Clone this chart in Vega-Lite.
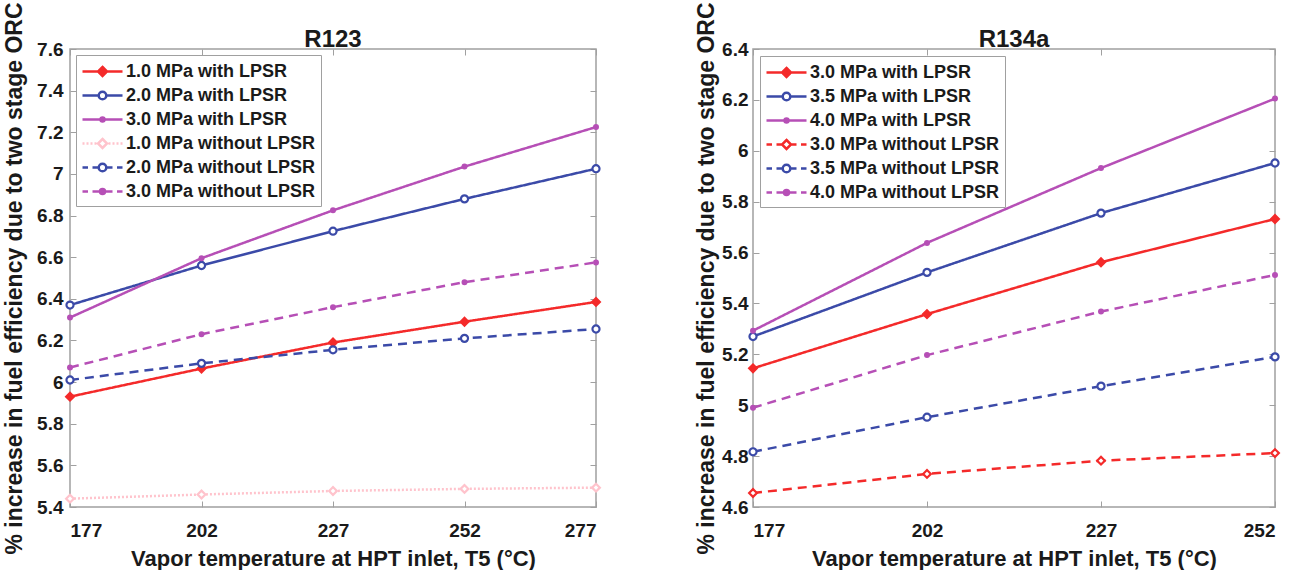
{
  "$schema": "https://vega.github.io/schema/vega-lite/v6.json",
  "background": "white",
  "padding": {"left": 2, "top": 1, "right": 5, "bottom": 0},
  "datasets": {
    "r123": [
      {"s": "1.0 MPa with LPSR", "t": 177, "v": 5.93},
      {"s": "1.0 MPa with LPSR", "t": 202, "v": 6.065},
      {"s": "1.0 MPa with LPSR", "t": 227, "v": 6.19},
      {"s": "1.0 MPa with LPSR", "t": 252, "v": 6.29},
      {"s": "1.0 MPa with LPSR", "t": 277, "v": 6.385},
      {"s": "2.0 MPa with LPSR", "t": 177, "v": 6.37},
      {"s": "2.0 MPa with LPSR", "t": 202, "v": 6.56},
      {"s": "2.0 MPa with LPSR", "t": 227, "v": 6.725},
      {"s": "2.0 MPa with LPSR", "t": 252, "v": 6.88},
      {"s": "2.0 MPa with LPSR", "t": 277, "v": 7.025},
      {"s": "3.0 MPa with LPSR", "t": 177, "v": 6.31},
      {"s": "3.0 MPa with LPSR", "t": 202, "v": 6.595},
      {"s": "3.0 MPa with LPSR", "t": 227, "v": 6.825},
      {"s": "3.0 MPa with LPSR", "t": 252, "v": 7.035},
      {"s": "3.0 MPa with LPSR", "t": 277, "v": 7.225},
      {"s": "1.0 MPa without LPSR", "t": 177, "v": 5.44},
      {"s": "1.0 MPa without LPSR", "t": 202, "v": 5.46},
      {"s": "1.0 MPa without LPSR", "t": 227, "v": 5.477},
      {"s": "1.0 MPa without LPSR", "t": 252, "v": 5.487},
      {"s": "1.0 MPa without LPSR", "t": 277, "v": 5.493},
      {"s": "2.0 MPa without LPSR", "t": 177, "v": 6.01},
      {"s": "2.0 MPa without LPSR", "t": 202, "v": 6.09},
      {"s": "2.0 MPa without LPSR", "t": 227, "v": 6.155},
      {"s": "2.0 MPa without LPSR", "t": 252, "v": 6.21},
      {"s": "2.0 MPa without LPSR", "t": 277, "v": 6.255},
      {"s": "3.0 MPa without LPSR", "t": 177, "v": 6.07},
      {"s": "3.0 MPa without LPSR", "t": 202, "v": 6.23},
      {"s": "3.0 MPa without LPSR", "t": 227, "v": 6.36},
      {"s": "3.0 MPa without LPSR", "t": 252, "v": 6.48},
      {"s": "3.0 MPa without LPSR", "t": 277, "v": 6.575}
    ],
    "r134a": [
      {"s": "3.0 MPa with LPSR", "t": 177, "v": 5.145},
      {"s": "3.0 MPa with LPSR", "t": 202, "v": 5.358},
      {"s": "3.0 MPa with LPSR", "t": 227, "v": 5.562},
      {"s": "3.0 MPa with LPSR", "t": 252, "v": 5.732},
      {"s": "3.5 MPa with LPSR", "t": 177, "v": 5.27},
      {"s": "3.5 MPa with LPSR", "t": 202, "v": 5.522},
      {"s": "3.5 MPa with LPSR", "t": 227, "v": 5.755},
      {"s": "3.5 MPa with LPSR", "t": 252, "v": 5.952},
      {"s": "4.0 MPa with LPSR", "t": 177, "v": 5.293},
      {"s": "4.0 MPa with LPSR", "t": 202, "v": 5.638},
      {"s": "4.0 MPa with LPSR", "t": 227, "v": 5.932},
      {"s": "4.0 MPa with LPSR", "t": 252, "v": 6.205},
      {"s": "3.0 MPa without LPSR", "t": 177, "v": 4.655},
      {"s": "3.0 MPa without LPSR", "t": 202, "v": 4.73},
      {"s": "3.0 MPa without LPSR", "t": 227, "v": 4.782},
      {"s": "3.0 MPa without LPSR", "t": 252, "v": 4.812},
      {"s": "3.5 MPa without LPSR", "t": 177, "v": 4.817},
      {"s": "3.5 MPa without LPSR", "t": 202, "v": 4.953},
      {"s": "3.5 MPa without LPSR", "t": 227, "v": 5.075},
      {"s": "3.5 MPa without LPSR", "t": 252, "v": 5.19},
      {"s": "4.0 MPa without LPSR", "t": 177, "v": 4.99},
      {"s": "4.0 MPa without LPSR", "t": 202, "v": 5.197},
      {"s": "4.0 MPa without LPSR", "t": 227, "v": 5.368},
      {"s": "4.0 MPa without LPSR", "t": 252, "v": 5.512}
    ]
  },
  "spacing": 77,
  "resolve": {
    "scale": {"stroke": "independent", "strokeDash": "independent", "fill": "independent", "shape": "independent"},
    "legend": {"shape": "independent", "stroke": "independent", "fill": "independent", "strokeDash": "independent"}
  },
  "hconcat": [
    {
      "title": {"text": "R123"},
      "width": 526,
      "height": 458,
      "data": {"name": "r123"},
      "resolve": {"axis": {"x": "independent", "y": "independent"}},
      "encoding": {
        "x": {"field": "t", "type": "quantitative", "scale": {"domain": [177, 277], "nice": false, "zero": false}, "axis": null},
        "y": {"field": "v", "type": "quantitative", "scale": {"domain": [5.4, 7.6], "nice": false, "zero": false}, "axis": null},
        "stroke": {"field": "s", "type": "nominal",
                   "scale": {"domain": ["1.0 MPa with LPSR", "2.0 MPa with LPSR", "3.0 MPa with LPSR", "1.0 MPa without LPSR", "2.0 MPa without LPSR", "3.0 MPa without LPSR"],
                             "range": ["#f42a2a", "#3b4aa8", "#b64fb6", "#ffc3cc", "#3b4aa8", "#b64fb6"]},
                   "legend": {"orient": "top-left", "offset": 6, "title": null, "symbolOpacity": 1, "symbolStrokeWidth": 2.5}},
        "fill": {"field": "s", "type": "nominal",
                 "scale": {"domain": ["1.0 MPa with LPSR", "2.0 MPa with LPSR", "3.0 MPa with LPSR", "1.0 MPa without LPSR", "2.0 MPa without LPSR", "3.0 MPa without LPSR"],
                           "range": ["#f42a2a", "#ffffff", "#b64fb6", "#ffffff", "#ffffff", "#b64fb6"]},
                 "legend": {"orient": "top-left", "offset": 6, "title": null, "symbolOpacity": 1, "symbolStrokeWidth": 2.5}}
      },
      "layer": [
        {
          "mark": {"type": "point", "strokeWidth": 2.5, "opacity": 0, "size": 400},
          "encoding": {
            "x": {"field": "t", "type": "quantitative", "scale": {"domain": [177, 277], "nice": false, "zero": false},
                  "axis": {"orient": "bottom", "values": [177, 202, 227, 252, 277], "title": "Vapor temperature at HPT inlet, T5 (°C)", "titleFontSize": 22, "labelPadding": 20, "titlePadding": 8}},
            "y": {"field": "v", "type": "quantitative", "scale": {"domain": [5.4, 7.6], "nice": false, "zero": false},
                  "axis": {"orient": "left", "values": [5.4, 5.6, 5.8, 6, 6.2, 6.4, 6.6, 6.8, 7, 7.2, 7.4, 7.6], "format": ".1~f", "title": "% increase in fuel efficiency due to two stage ORC", "titleFontSize": 23, "labelPadding": 13, "titlePadding": 10}},
            "shape": {"field": "s", "type": "nominal",
                      "scale": {"domain": ["1.0 MPa with LPSR", "2.0 MPa with LPSR", "3.0 MPa with LPSR", "1.0 MPa without LPSR", "2.0 MPa without LPSR", "3.0 MPa without LPSR"],
                                "range": [
                                  "M-2,0H2M0,-0.45L0.45,0L0,0.45L-0.45,0Z",
                                  "M-2,0H-0.38M0.38,0H2M-0.38,0A0.38,0.38,0,1,0,0.38,0A0.38,0.38,0,1,0,-0.38,0Z",
                                  "M-2,0H2M-0.2,0A0.2,0.2,0,1,0,0.2,0A0.2,0.2,0,1,0,-0.2,0Z",
                                  "M-2,0H-1.8M-1.6,0H-1.4M-1.2,0H-1.0M-0.8,0H-0.6M0.6,0H0.8M1.0,0H1.2M1.4,0H1.6M1.8,0H2M0,-0.45L0.45,0L0,0.45L-0.45,0Z",
                                  "M-2,0H-1.45M-1.0,0H-0.38M0.38,0H1.0M1.45,0H2M-0.38,0A0.38,0.38,0,1,0,0.38,0A0.38,0.38,0,1,0,-0.38,0Z",
                                  "M-2,0H-1.45M-1.0,0H-0.3M0.3,0H1.0M1.45,0H2M-0.25,0A0.25,0.25,0,1,0,0.25,0A0.25,0.25,0,1,0,-0.25,0Z"
                                ]},
                      "legend": {"orient": "top-left", "offset": 6, "title": null, "symbolOpacity": 1, "symbolStrokeWidth": 2.5}}
          }
        },
        {
          "mark": {"type": "line", "strokeWidth": 2.5},
          "encoding": {
            "fill": {"value": null},
            "strokeDash": {"field": "s", "type": "nominal",
                           "scale": {"domain": ["3.0 MPa without LPSR", "2.0 MPa without LPSR", "1.0 MPa without LPSR", "3.0 MPa with LPSR", "2.0 MPa with LPSR", "1.0 MPa with LPSR"],
                                     "range": [[9, 6], [9, 6], [2, 2], [1, 0], [1, 0], [1, 0]]},
                           "legend": null}
          }
        },
        {
          "transform": [{"filter": {"field": "s", "oneOf": ["1.0 MPa with LPSR", "1.0 MPa without LPSR"]}}],
          "mark": {"type": "point", "shape": "diamond", "size": 60, "strokeWidth": 2.2, "opacity": 1, "fillOpacity": 1},
          "encoding": {
            "x": {"field": "t", "type": "quantitative", "scale": {"domain": [177, 277], "nice": false, "zero": false},
                  "axis": {"orient": "top", "values": [177, 202, 227, 252, 277], "labels": false, "title": null}},
            "y": {"field": "v", "type": "quantitative", "scale": {"domain": [5.4, 7.6], "nice": false, "zero": false},
                  "axis": {"orient": "right", "values": [5.4, 5.6, 5.8, 6, 6.2, 6.4, 6.6, 6.8, 7, 7.2, 7.4, 7.6], "labels": false, "title": null}}
          }
        },
        {
          "transform": [{"filter": {"field": "s", "oneOf": ["2.0 MPa with LPSR", "2.0 MPa without LPSR"]}}],
          "mark": {"type": "point", "shape": "circle", "size": 50, "strokeWidth": 2.2, "opacity": 1, "fillOpacity": 1}
        },
        {
          "transform": [{"filter": {"field": "s", "oneOf": ["3.0 MPa with LPSR", "3.0 MPa without LPSR"]}}],
          "mark": {"type": "point", "shape": "circle", "size": 16, "strokeWidth": 2, "opacity": 1, "fillOpacity": 1}
        }
      ]
    },
    {
      "title": {"text": "R134a"},
      "width": 522,
      "height": 458,
      "data": {"name": "r134a"},
      "resolve": {"axis": {"x": "independent", "y": "independent"}},
      "encoding": {
        "x": {"field": "t", "type": "quantitative", "scale": {"domain": [177, 252], "nice": false, "zero": false}, "axis": null},
        "y": {"field": "v", "type": "quantitative", "scale": {"domain": [4.6, 6.4], "nice": false, "zero": false}, "axis": null},
        "stroke": {"field": "s", "type": "nominal",
                   "scale": {"domain": ["3.0 MPa with LPSR", "3.5 MPa with LPSR", "4.0 MPa with LPSR", "3.0 MPa without LPSR", "3.5 MPa without LPSR", "4.0 MPa without LPSR"],
                             "range": ["#f42a2a", "#3b4aa8", "#b64fb6", "#f42a2a", "#3b4aa8", "#b64fb6"]},
                   "legend": {"orient": "top-left", "offset": 7, "title": null, "symbolOpacity": 1, "symbolStrokeWidth": 2.5}},
        "fill": {"field": "s", "type": "nominal",
                 "scale": {"domain": ["3.0 MPa with LPSR", "3.5 MPa with LPSR", "4.0 MPa with LPSR", "3.0 MPa without LPSR", "3.5 MPa without LPSR", "4.0 MPa without LPSR"],
                           "range": ["#f42a2a", "#ffffff", "#b64fb6", "#ffffff", "#ffffff", "#b64fb6"]},
                 "legend": {"orient": "top-left", "offset": 7, "title": null, "symbolOpacity": 1, "symbolStrokeWidth": 2.5}}
      },
      "layer": [
        {
          "mark": {"type": "point", "strokeWidth": 2.5, "opacity": 0, "size": 400},
          "encoding": {
            "x": {"field": "t", "type": "quantitative", "scale": {"domain": [177, 252], "nice": false, "zero": false},
                  "axis": {"orient": "bottom", "values": [177, 202, 227, 252], "title": "Vapor temperature at HPT inlet, T5 (°C)", "titleFontSize": 22, "labelPadding": 20, "titlePadding": 8}},
            "y": {"field": "v", "type": "quantitative", "scale": {"domain": [4.6, 6.4], "nice": false, "zero": false},
                  "axis": {"orient": "left", "values": [4.6, 4.8, 5, 5.2, 5.4, 5.6, 5.8, 6, 6.2, 6.4], "format": ".1~f", "title": "% increase in fuel efficiency due to two stage ORC", "titleFontSize": 23, "labelPadding": 11, "titlePadding": 3}},
            "shape": {"field": "s", "type": "nominal",
                      "scale": {"domain": ["3.0 MPa with LPSR", "3.5 MPa with LPSR", "4.0 MPa with LPSR", "3.0 MPa without LPSR", "3.5 MPa without LPSR", "4.0 MPa without LPSR"],
                                "range": [
                                  "M-2,0H2M0,-0.45L0.45,0L0,0.45L-0.45,0Z",
                                  "M-2,0H-0.38M0.38,0H2M-0.38,0A0.38,0.38,0,1,0,0.38,0A0.38,0.38,0,1,0,-0.38,0Z",
                                  "M-2,0H2M-0.2,0A0.2,0.2,0,1,0,0.2,0A0.2,0.2,0,1,0,-0.2,0Z",
                                  "M-2,0H-1.45M-1.0,0H-0.45M0.45,0H1.0M1.45,0H2M0,-0.45L0.45,0L0,0.45L-0.45,0Z",
                                  "M-2,0H-1.45M-1.0,0H-0.38M0.38,0H1.0M1.45,0H2M-0.38,0A0.38,0.38,0,1,0,0.38,0A0.38,0.38,0,1,0,-0.38,0Z",
                                  "M-2,0H-1.45M-1.0,0H-0.3M0.3,0H1.0M1.45,0H2M-0.25,0A0.25,0.25,0,1,0,0.25,0A0.25,0.25,0,1,0,-0.25,0Z"
                                ]},
                      "legend": {"orient": "top-left", "offset": 7, "title": null, "symbolOpacity": 1, "symbolStrokeWidth": 2.5}}
          }
        },
        {
          "mark": {"type": "line", "strokeWidth": 2.5},
          "encoding": {
            "fill": {"value": null},
            "strokeDash": {"field": "s", "type": "nominal",
                           "scale": {"domain": ["4.0 MPa without LPSR", "3.5 MPa without LPSR", "3.0 MPa without LPSR", "4.0 MPa with LPSR", "3.5 MPa with LPSR", "3.0 MPa with LPSR"],
                                     "range": [[9, 6], [9, 6], [9, 6], [1, 0], [1, 0], [1, 0]]},
                           "legend": null}
          }
        },
        {
          "transform": [{"filter": {"field": "s", "oneOf": ["3.0 MPa with LPSR", "3.0 MPa without LPSR"]}}],
          "mark": {"type": "point", "shape": "diamond", "size": 60, "strokeWidth": 2.2, "opacity": 1, "fillOpacity": 1},
          "encoding": {
            "x": {"field": "t", "type": "quantitative", "scale": {"domain": [177, 252], "nice": false, "zero": false},
                  "axis": {"orient": "top", "values": [177, 202, 227, 252], "labels": false, "title": null}},
            "y": {"field": "v", "type": "quantitative", "scale": {"domain": [4.6, 6.4], "nice": false, "zero": false},
                  "axis": {"orient": "right", "values": [4.6, 4.8, 5, 5.2, 5.4, 5.6, 5.8, 6, 6.2, 6.4], "labels": false, "title": null}}
          }
        },
        {
          "transform": [{"filter": {"field": "s", "oneOf": ["3.5 MPa with LPSR", "3.5 MPa without LPSR"]}}],
          "mark": {"type": "point", "shape": "circle", "size": 50, "strokeWidth": 2.2, "opacity": 1, "fillOpacity": 1}
        },
        {
          "transform": [{"filter": {"field": "s", "oneOf": ["4.0 MPa with LPSR", "4.0 MPa without LPSR"]}}],
          "mark": {"type": "point", "shape": "circle", "size": 16, "strokeWidth": 2, "opacity": 1, "fillOpacity": 1}
        }
      ]
    }
  ],
  "config": {
    "font": "Liberation Sans",
    "view": {"stroke": "#a0a0a0", "strokeWidth": 1.5},
    "title": {"font": "Liberation Sans", "fontSize": 24, "fontWeight": "bold", "color": "#1a1a1a", "offset": -50, "frame": "group"},
    "axis": {
      "grid": false, "domain": false,
      "tickColor": "#a0a0a0", "tickSize": -6, "tickWidth": 1,
      "labelFont": "Liberation Sans", "labelFontSize": 19, "labelFontWeight": "bold", "labelColor": "#1a1a1a",
      "titleFont": "Liberation Sans", "titleFontWeight": "bold", "titleColor": "#1a1a1a"
    },
    "legend": {
      "strokeColor": "#a0a0a0", "fillColor": "white", "padding": 5, "cornerRadius": 0,
      "labelFont": "Liberation Sans", "labelFontSize": 18, "labelFontWeight": "bold", "labelColor": "#1a1a1a",
      "labelLimit": 400, "symbolSize": 400, "rowPadding": 3, "symbolOffset": 10, "labelOffset": 12
    }
  }
}
